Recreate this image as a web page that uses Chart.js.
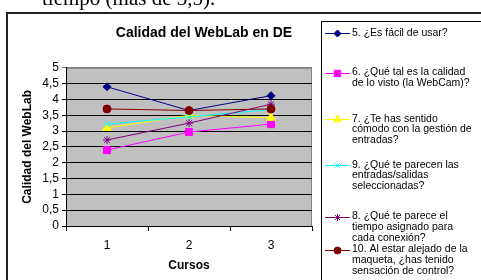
<!DOCTYPE html>
<html>
<head>
<meta charset="utf-8">
<script src="https://cdn.jsdelivr.net/npm/chart.js@4"></script>
<style>
  html, body { margin: 0; padding: 0; background: #fff; overflow: hidden; }
  #wrap { position: relative; width: 481px; height: 280px; overflow: hidden; }
  #top { position: absolute; left: 42px; top: -12px; font: 21px 'Liberation Serif', 'Times New Roman', serif; line-height: 21px; color: #000; white-space: nowrap; }
  canvas { position: absolute; left: 0; top: 0; }
</style>
</head>
<body>
<div id="wrap">
  <canvas id="c" width="481" height="280"></canvas>
  <div id="top">tiempo (más de 3,5).</div>
</div>
<script>
const categories = ['1', '2', '3'];
const chartTitle = 'Calidad del WebLab en DE';
const yTitle = 'Calidad del WebLab';
const xTitle = 'Cursos';

const q5  = [4.40, 3.65, 4.12];
const q6  = [2.40, 2.97, 3.22];
const q7  = [3.10, 3.50, 3.42];
const q9  = [3.22, 3.45, 3.68];
const q8  = [2.72, 3.25, 3.85];
const q10 = [3.70, 3.65, 3.70];

const label5  = ['5. ¿Es fácil de usar?'];
const label6  = ['6. ¿Qué tal es la calidad', 'de lo visto (la WebCam)?'];
const label7  = ['7. ¿Te has sentido', 'cómodo con la gestión de', 'entradas?'];
const label9  = ['9. ¿Qué te parecen las', 'entradas/salidas', 'seleccionadas?'];
const label8  = ['8. ¿Qué te parece el', 'tiempo asignado para', 'cada conexión?'];
const label10 = ['10. Al estar alejado de la', 'maqueta, ¿has tenido', 'sensación de control?'];

const seriesData   = [q5, q6, q7, q9, q8, q10];
const seriesLabels = [label5, label6, label7, label9, label8, label10];
const seriesColors = ['#000080', '#FF00FF', '#FFFF00', '#00FFFF', '#800080', '#800000'];
const seriesStyles = ['rectRot', 'rect', 'triangle', 'crossRot', 'star', 'circle'];
const seriesRadius = [4, 5, 5, 4, 4, 4];

const FONT = "Arial, 'Liberation Sans', sans-serif";

const datasets = seriesData.map((d, i) => ({
  label: seriesLabels[i].join(' '),
  data: d,
  borderColor: seriesColors[i],
  backgroundColor: seriesColors[i],
  pointBackgroundColor: seriesColors[i],
  pointBorderColor: seriesColors[i],
  pointStyle: seriesStyles[i],
  pointRadius: seriesRadius[i],
  pointBorderWidth: 1,
  borderWidth: 1,
  tension: 0,
  order: seriesData.length - i
}));

const framePlugin = {
  id: 'frame',
  beforeDraw(chart) {
    const { ctx, chartArea: a } = chart;
    ctx.save();
    ctx.fillStyle = '#fff';
    ctx.fillRect(0, 0, chart.width, chart.height);
    ctx.fillStyle = '#C0C0C0';
    ctx.fillRect(a.left, a.top, a.right - a.left, a.bottom - a.top);
    ctx.strokeStyle = '#808080';
    ctx.lineWidth = 1;
    ctx.beginPath();
    ctx.moveTo(a.left, a.top + 0.5);
    ctx.lineTo(a.right - 0.5, a.top + 0.5);
    ctx.lineTo(a.right - 0.5, a.bottom);
    ctx.stroke();
    ctx.restore();
  },
  afterLayout(chart) {
    const t = chart.titleBlock;
    if (t) { t.left = 0; t.right = 408; t.width = 408; }
  },
  afterDraw(chart) {
    const ctx = chart.ctx;
    ctx.save();
    // outer chart border
    ctx.strokeStyle = '#222';
    ctx.lineWidth = 2;
    ctx.beginPath();
    ctx.moveTo(7, 290);
    ctx.lineTo(7, 13);
    ctx.lineTo(490, 13);
    ctx.stroke();
    // legend box
    ctx.strokeStyle = '#000';
    ctx.lineWidth = 1;
    ctx.strokeRect(321.5, 21.5, 200, 300);
    const itemY = [33, 72.5, 119, 165, 216.5, 249.5];
    const lineH = 10.6;
    ctx.font = '10.5px ' + FONT;
    ctx.textBaseline = 'middle';
    ctx.textAlign = 'left';
    seriesLabels.forEach((lines, i) => {
      const y = itemY[i];
      ctx.strokeStyle = seriesColors[i];
      ctx.fillStyle = seriesColors[i];
      ctx.lineWidth = 1;
      ctx.beginPath();
      ctx.moveTo(325, Math.round(y) + 0.5);
      ctx.lineTo(350, Math.round(y) + 0.5);
      ctx.stroke();
      Chart.helpers.drawPoint(ctx, { pointStyle: seriesStyles[i], radius: seriesRadius[i] - 0.5, rotation: 0, borderWidth: 1 }, 337.5, Math.round(y) + 0.5);
      ctx.fillStyle = '#000';
      lines.forEach((ln, j) => ctx.fillText(ln, 352, y + j * lineH));
    });
    ctx.restore();
  }
};

new Chart(document.getElementById('c'), {
  type: 'line',
  data: { labels: categories, datasets },
  options: {
    responsive: false,
    animation: false,
    devicePixelRatio: 1,
    layout: { padding: { left: 0, right: 169, top: 0, bottom: 0 } },
    plugins: {
      legend: { display: false },
      tooltip: { enabled: false },
      title: {
        display: true,
        text: chartTitle,
        color: '#000',
        font: { family: FONT, size: 14, weight: 'bold' },
        padding: { top: 25, bottom: 26 }
      }
    },
    scales: {
      x: {
        type: 'category',
        offset: true,
        grid: { display: true, drawOnChartArea: false, drawTicks: true, tickLength: 5, offset: true, color: '#000' },
        border: { display: true, color: '#000', width: 1 },
        ticks: { color: '#000', font: { family: FONT, size: 12 }, padding: 7, maxRotation: 0 },
        title: { display: true, text: xTitle, color: '#000', font: { family: FONT, size: 12, weight: 'bold' }, padding: { top: 4, bottom: 7 } },
        afterFit(s) { s.height = 54; }
      },
      y: {
        min: 0,
        max: 5,
        ticks: {
          stepSize: 0.5,
          autoSkip: false,
          color: '#000',
          font: { family: FONT, size: 12 },
          padding: 3,
          callback: v => String(v).replace('.', ',')
        },
        grid: {
          color: ctx => (ctx.tick && ctx.tick.value === 5) ? '#808080' : '#000',
          lineWidth: 1,
          tickLength: 4,
          drawTicks: true
        },
        border: { display: true, color: '#000', width: 1 },
        title: { display: true, text: yTitle, color: '#000', font: { family: FONT, size: 12, weight: 'bold' }, padding: { top: 20, bottom: 4 } },
        afterFit(s) { s.width = 66; }
      }
    }
  },
  plugins: [framePlugin]
});
</script>
</body>
</html>
